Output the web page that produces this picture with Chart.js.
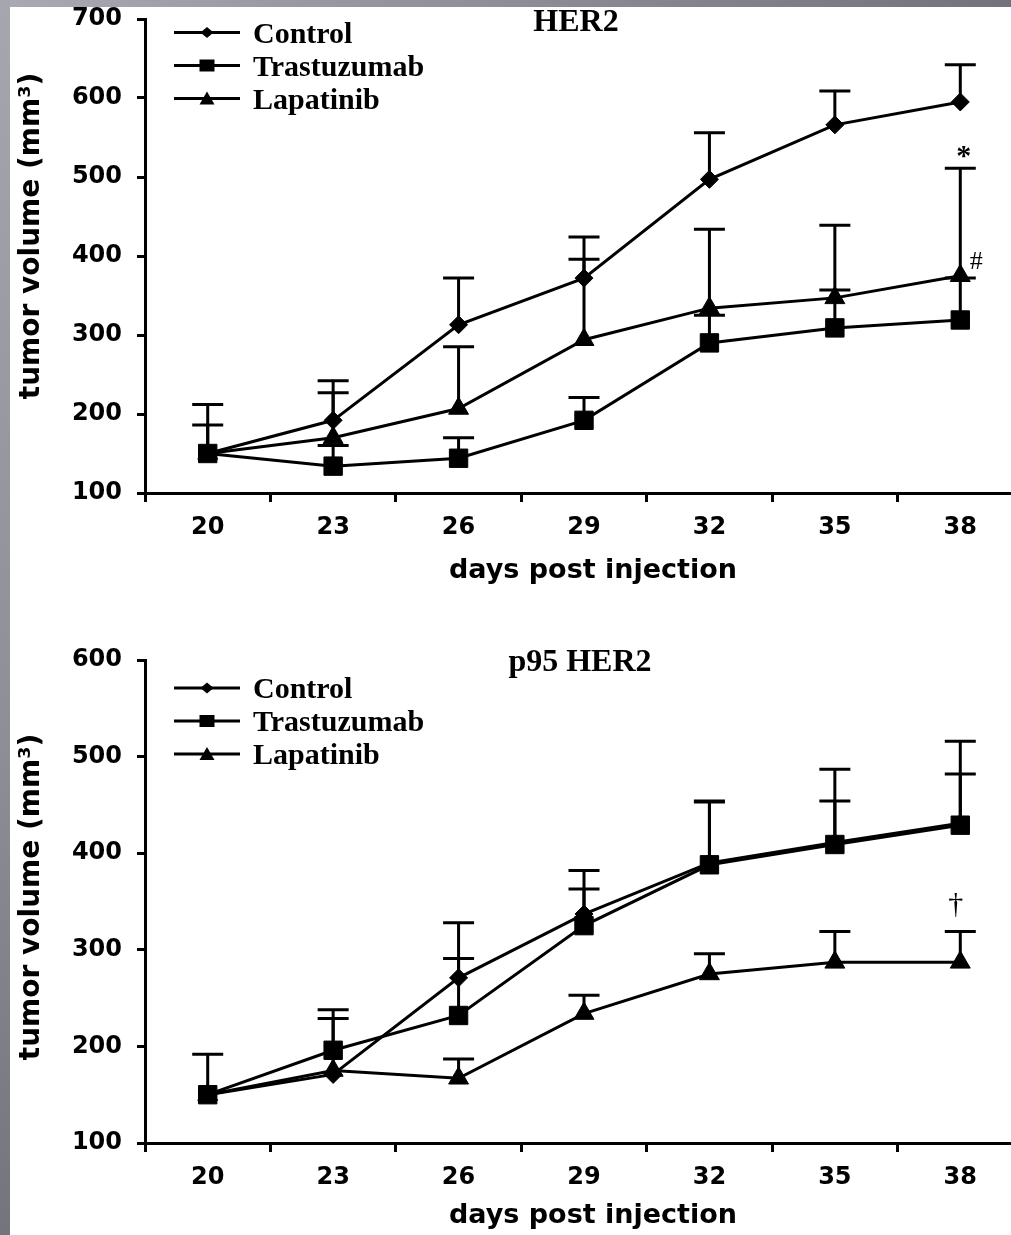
<!DOCTYPE html>
<html>
<head>
<meta charset="utf-8">
<script src="https://cdn.jsdelivr.net/npm/chart.js@4/dist/chart.umd.min.js"></script>
<style>
  html, body { margin: 0; padding: 0; width: 1011px; height: 1235px; overflow: hidden; background: #fff; }
  .panel { position: absolute; left: 0; width: 1030px; }
  #frameTop { position: absolute; left: 0; top: 0; width: 1011px; height: 7px; background: linear-gradient(to right, #a9a9b1, #72727a); z-index: 5; }
  #frameLeft { position: absolute; left: 0; top: 0; width: 10px; height: 1235px; background: linear-gradient(to bottom, #a6a6ae, #8e8e96 60%, #74747c); z-index: 5; }
</style>
</head>
<body>
<div class="panel" style="top:0"><canvas id="her2" width="1030" height="600"></canvas></div>
<div class="panel" style="top:600px"><canvas id="p95" width="1030" height="635"></canvas></div>
<div id="frameTop"></div>
<div id="frameLeft"></div>
<script>
// Days after tumour cell injection
const days = ['20', '23', '26', '29', '32', '35', '38'];

// HER2 xenografts: mean tumour volume (mm³) and top of the error bar (mean + SEM)
const her2Control = [150, 192, 313, 372, 497, 566, 595];
const her2ControlUpper = [212, 242, 372, 424, 556, 609, 642];
const her2Trastuzumab = [150, 134, 144, 192, 290, 309, 319];
const her2TrastuzumabUpper = [null, 160, 170, 221, 325, 357, 372];
const her2Lapatinib = [150, 170, 207, 294, 334, 347, 375];
const her2LapatinibUpper = [186, 227, 285, 396, 434, 439, 511];
const her2YTicks = [100, 200, 300, 400, 500, 600, 700];

// p95HER2 xenografts
const p95Control = [150, 171, 271, 337, 390, 411, 431];
const p95ControlUpper = [192, 229, 328, 382, 454, 487, 516];
const p95Trastuzumab = [150, 196, 232, 325, 388, 409, 429];
const p95TrastuzumabUpper = [null, 238, 291, 363, 453, 454, 482];
const p95Lapatinib = [150, 175, 167, 234, 275, 287, 287];
const p95LapatinibUpper = [null, null, 187, 253, 296, 319, 319];
const p95YTicks = [100, 200, 300, 400, 500, 600];

// Significance marks, anchored to a day and a volume
const her2Marks = [
  { text: '*', day: '38', value: her2LapatinibUpper[6], font: 'bold 30px "Liberation Serif"', dx: -4, dy: -16 },
  { text: '#', day: '38', value: her2Lapatinib[6], font: '26px "Liberation Serif"', dx: 16, dy: -15 }
];
const p95Marks = [
  { text: '\u2020', day: '38', value: p95LapatinibUpper[6], font: '30px "Liberation Serif"', dx: -12, dy: -26 }
];

const seriesStyles = [
  { label: 'Control', pointStyle: 'rectRot', radius: 9 },
  { label: 'Trastuzumab', pointStyle: 'rect', radius: 13 },
  { label: 'Lapatinib', pointStyle: 'triangle', radius: 11.5 }
];

function makeDatasets(values, uppers) {
  return seriesStyles.map((s, i) => ({
    label: s.label,
    data: values[i],
    upper: uppers[i],
    borderColor: '#000',
    backgroundColor: '#000',
    borderWidth: 3,
    tension: 0,
    pointStyle: s.pointStyle,
    pointRadius: s.radius,
    pointHoverRadius: s.radius,
    pointBorderWidth: 1,
    pointBorderColor: '#000',
    pointBackgroundColor: '#000'
  }));
}

// Upward SEM whiskers with a flat cap
const errorBars = {
  id: 'errorBars',
  beforeDatasetsDraw(chart) {
    const { ctx, scales: { x, y } } = chart;
    ctx.save();
    ctx.strokeStyle = '#000';
    ctx.lineWidth = 3;
    chart.data.datasets.forEach(ds => {
      (ds.upper || []).forEach((top, j) => {
        if (top == null) return;
        const px = x.getPixelForValue(j);
        const p0 = y.getPixelForValue(ds.data[j]);
        const p1 = y.getPixelForValue(top);
        ctx.beginPath();
        ctx.moveTo(px, p0);
        ctx.lineTo(px, p1);
        ctx.moveTo(px - 15.5, p1);
        ctx.lineTo(px + 15.5, p1);
        ctx.stroke();
      });
    });
    ctx.restore();
  }
};

function legendMarker(ctx, style, cx, cy) {
  ctx.beginPath();
  if (style === 'rectRot') {
    ctx.moveTo(cx - 6.5, cy); ctx.lineTo(cx, cy - 5.5); ctx.lineTo(cx + 6.5, cy); ctx.lineTo(cx, cy + 5.5);
  } else if (style === 'rect') {
    ctx.rect(cx - 7.5, cy - 6, 15, 12);
  } else {
    ctx.moveTo(cx, cy - 7); ctx.lineTo(cx + 7.5, cy + 6); ctx.lineTo(cx - 7.5, cy + 6);
  }
  ctx.closePath();
  ctx.fill();
}

function drawCentered(ctx, text, font, cx, cy) {
  ctx.font = font;
  const m = ctx.measureText(text);
  const h = m.actualBoundingBoxAscent + m.actualBoundingBoxDescent;
  const w = m.actualBoundingBoxLeft + m.actualBoundingBoxRight;
  ctx.textAlign = 'left';
  ctx.textBaseline = 'alphabetic';
  ctx.fillText(text, cx - w / 2 + m.actualBoundingBoxLeft, cy - h / 2 + m.actualBoundingBoxAscent);
}

// Panel title, legend, axis titles and significance marks
const panelText = {
  id: 'panelText',
  afterDraw(chart, args, o) {
    const { ctx, chartArea, scales: { x, y } } = chart;
    ctx.save();
    ctx.fillStyle = '#000';
    ctx.strokeStyle = '#000';

    // panel title
    ctx.font = 'bold 32px "Liberation Serif"';
    ctx.textAlign = 'center';
    ctx.textBaseline = 'alphabetic';
    ctx.fillText(o.title, o.titleX, o.titleBaseline);

    // legend: line with marker, then label
    chart.data.datasets.forEach((ds, i) => {
      const cy = o.legendTop + i * 33;
      const x0 = chartArea.left + 29;
      ctx.lineWidth = 3;
      ctx.beginPath();
      ctx.moveTo(x0, cy);
      ctx.lineTo(x0 + 66, cy);
      ctx.stroke();
      legendMarker(ctx, ds.pointStyle, x0 + 33, cy);
      ctx.font = 'bold 30px "Liberation Serif"';
      ctx.textAlign = 'left';
      ctx.textBaseline = 'alphabetic';
      ctx.fillText(ds.label, x0 + 79, cy + 10);
    });

    // y axis title
    ctx.save();
    ctx.translate(39, o.yTitleCenter);
    ctx.rotate(-Math.PI / 2);
    ctx.font = 'bold 28px "DejaVu Sans"';
    ctx.textAlign = 'center';
    ctx.textBaseline = 'alphabetic';
    ctx.fillText('tumor volume (mm\u00B3)', 0, 0);
    ctx.restore();

    // x axis title
    ctx.font = 'bold 27px "DejaVu Sans"';
    ctx.textAlign = 'center';
    ctx.textBaseline = 'alphabetic';
    ctx.fillText('days post injection', 593, o.xTitleBaseline);

    // significance marks
    (o.marks || []).forEach(mk => {
      const px = x.getPixelForValue(days.indexOf(mk.day));
      const py = y.getPixelForValue(mk.value);
      drawCentered(ctx, mk.text, mk.font, px + mk.dx, py + mk.dy);
    });
    ctx.restore();
  }
};

function makeChart(id, values, uppers, yTicks, yMax, plotTop, xHeight, deco) {
  return new Chart(document.getElementById(id), {
    type: 'line',
    data: { labels: days, datasets: makeDatasets(values, uppers) },
    plugins: [errorBars, panelText],
    options: {
      responsive: false,
      animation: false,
      layout: { autoPadding: false, padding: { top: plotTop, right: 7, left: 0, bottom: 0 } },
      plugins: {
        legend: { display: false },
        tooltip: { enabled: false },
        panelText: deco
      },
      scales: {
        x: {
          type: 'category',
          offset: true,
          grid: { offset: true, drawOnChartArea: false, drawTicks: true, tickLength: 9, tickWidth: 3, color: '#000' },
          border: { display: true, color: '#000', width: 3 },
          ticks: { color: '#000', font: { family: 'DejaVu Sans', weight: 'bold', size: 24 }, padding: 11, maxRotation: 0, autoSkip: false },
          afterFit(s) { s.height = xHeight; s.paddingLeft = 0; s.paddingRight = 0; }
        },
        y: {
          min: 100,
          max: yMax,
          afterBuildTicks(s) { s.ticks = yTicks.map(v => ({ value: v })); },
          grid: { drawOnChartArea: false, drawTicks: true, tickLength: 8, tickWidth: 3, color: '#000' },
          border: { display: true, color: '#000', width: 3 },
          ticks: { color: '#000', font: { family: 'DejaVu Sans', weight: 'bold', size: 24 }, padding: 15 },
          afterFit(s) { s.width = 145; s.paddingTop = 0; s.paddingBottom = 0; }
        }
      }
    }
  });
}

makeChart('her2',
  [her2Control, her2Trastuzumab, her2Lapatinib],
  [her2ControlUpper, her2TrastuzumabUpper, her2LapatinibUpper],
  her2YTicks, 700, 19, 107,
  { title: 'HER2', titleX: 576, titleBaseline: 31, legendTop: 32.5, yTitleCenter: 236, xTitleBaseline: 578, marks: her2Marks });

makeChart('p95',
  [p95Control, p95Trastuzumab, p95Lapatinib],
  [p95ControlUpper, p95TrastuzumabUpper, p95LapatinibUpper],
  p95YTicks, 600, 60, 92,
  { title: 'p95 HER2', titleX: 580, titleBaseline: 71, legendTop: 88, yTitleCenter: 297, xTitleBaseline: 623, marks: p95Marks });
</script>
</body>
</html>
